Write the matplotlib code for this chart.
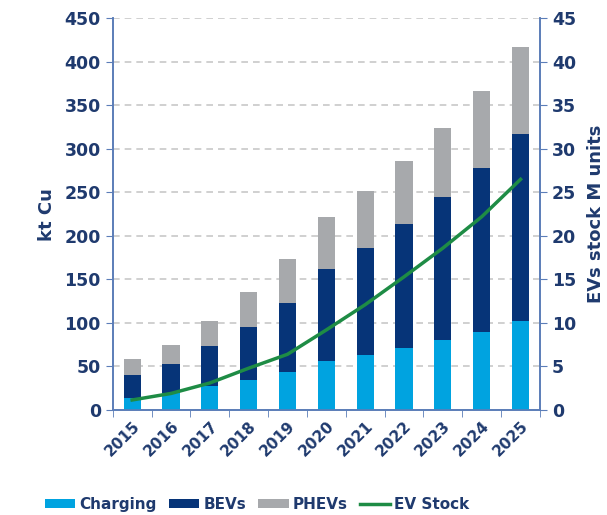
import matplotlib

matplotlib.use("Agg")
import matplotlib.pyplot as plt  # noqa: E402
import numpy as np  # noqa: E402
from matplotlib.ticker import FixedLocator  # noqa: E402

# copper demand by segment (kt Cu), stacked
years = ["2015", "2016", "2017", "2018", "2019", "2020",
         "2021", "2022", "2023", "2024", "2025"]
charging = [14, 19, 27, 35, 44, 56, 63, 71, 80, 90, 102]
bevs = [26, 34, 46, 60, 79, 106, 123, 143, 165, 188, 215]
phevs = [19, 22, 29, 40, 51, 60, 66, 72, 79, 89, 100]
# EV stock, M units (right axis)
ev_stock = [1.15, 1.9, 3.1, 4.8, 6.4, 9.2, 12.1, 15.3, 18.6, 22.2, 26.5]

NAVY = "#1f3a6e"
SPINE = "#5b7db8"
C_CHARGING = "#00a3e0"
C_BEV = "#063478"
C_PHEV = "#a7a9ac"
C_STOCK = "#1e8c45"

fig = plt.figure(figsize=(6.07, 5.15), dpi=100)
ax = fig.add_axes([0.1857, 0.2039, 0.7039, 0.7606])
ax2 = ax.twinx()

x = np.arange(len(years))
w = 0.44
bottom2 = np.array(charging)
bottom3 = bottom2 + np.array(bevs)
ax.bar(x, charging, w, color=C_CHARGING, label="Charging", zorder=3)
ax.bar(x, bevs, w, bottom=bottom2, color=C_BEV, label="BEVs", zorder=3)
ax.bar(x, phevs, w, bottom=bottom3, color=C_PHEV, label="PHEVs", zorder=3)
ax2.plot(x, ev_stock, color=C_STOCK, lw=2.5, label="EV Stock", zorder=4)

ax.set_xlim(-0.5, len(years) - 0.5)
ax.set_ylim(0, 450)
ax2.set_ylim(0, 45)
ax.set_yticks(np.arange(0, 451, 50))
ax2.set_yticks(np.arange(0, 46, 5))

ax.yaxis.grid(True, linestyle=(0, (4, 3)), color="#c8c8c8", lw=1.2, zorder=0)
ax.set_axisbelow(True)

# year labels centred, tick marks between categories
ax.set_xticks(x)
ax.set_xticklabels(years, rotation=45, ha="right", rotation_mode="anchor",
                   fontsize=11, fontweight="bold", color=NAVY)
ax.tick_params(axis="x", which="major", length=0, pad=6)
ax.xaxis.set_minor_locator(FixedLocator(np.arange(-0.5, len(years), 1)))
ax.tick_params(axis="x", which="minor", length=5, color=SPINE, direction="out")

for a in (ax, ax2):
    a.tick_params(axis="y", length=5, color=SPINE, labelsize=12.5,
                  labelcolor=NAVY, direction="out")
    for lab in a.get_yticklabels():
        lab.set_fontweight("bold")
    a.spines["top"].set_visible(False)
    for side in ("left", "right", "bottom"):
        a.spines[side].set_color(SPINE)
        a.spines[side].set_linewidth(1.2)

ax.set_ylabel("kt Cu", fontsize=13, fontweight="bold", color=NAVY, labelpad=6)
ax2.set_ylabel("EVs stock M units", fontsize=13, fontweight="bold",
               color=NAVY, labelpad=8)

h1, l1 = ax.get_legend_handles_labels()
h2, l2 = ax2.get_legend_handles_labels()
leg = fig.legend(h1 + h2, l1 + l2, loc="lower left", ncol=4, frameon=False,
                 bbox_to_anchor=(0.069, 0.0), borderaxespad=0.0, borderpad=0.2,
                 handlelength=2.0, handleheight=0.5,
                 columnspacing=0.8, handletextpad=0.25,
                 prop={"weight": "bold", "size": 11})
for t in leg.get_texts():
    t.set_color(NAVY)

fig.savefig("out.png", dpi=100)
